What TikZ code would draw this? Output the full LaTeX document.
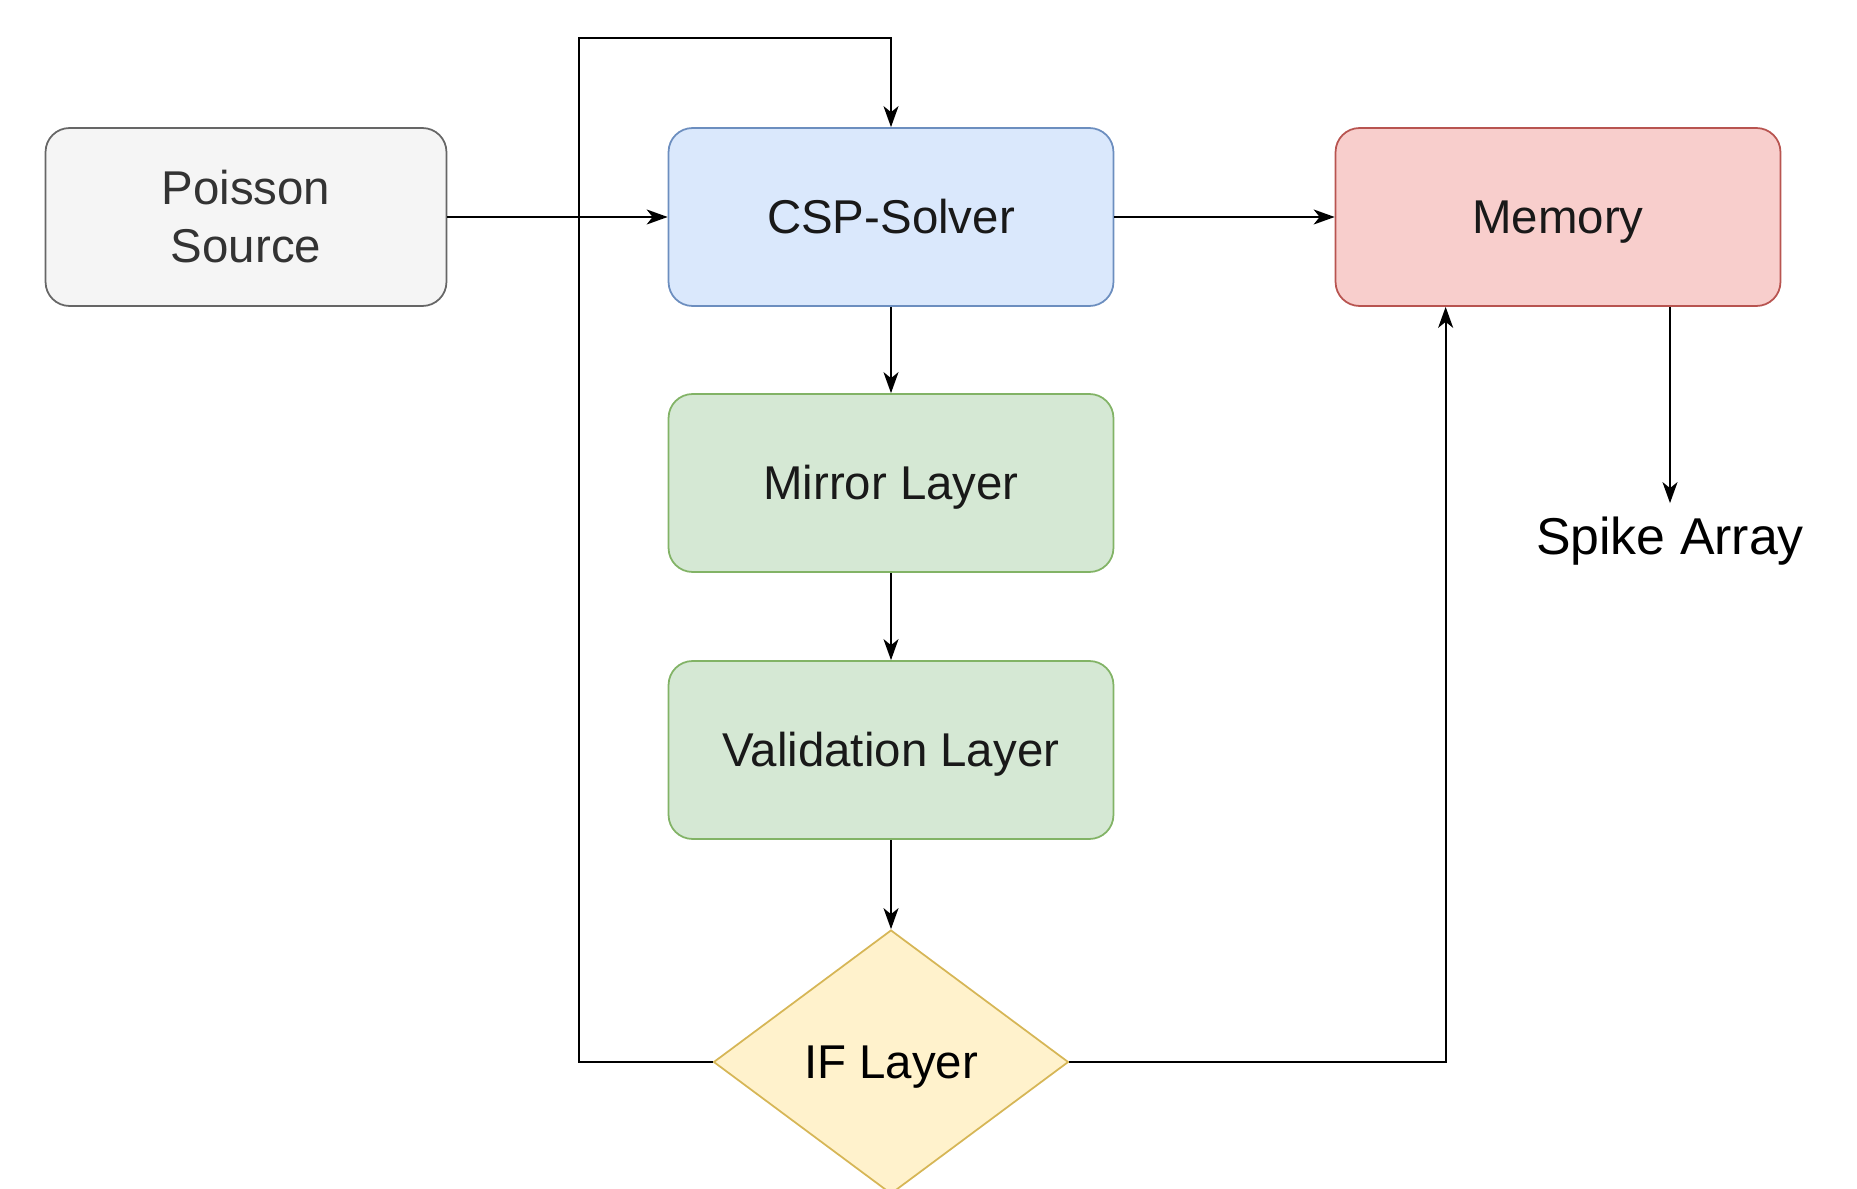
\documentclass[tikz,border=0pt]{standalone}
\usepackage{fontspec}
\setmainfont{Liberation Sans}
\usetikzlibrary{arrows.meta,shapes.geometric}
\definecolor{grayfill}{HTML}{F5F5F5}
\definecolor{graydraw}{HTML}{666666}
\definecolor{bluefill}{HTML}{DAE8FC}
\definecolor{bluedraw}{HTML}{6C8EBF}
\definecolor{greenfill}{HTML}{D5E8D4}
\definecolor{greendraw}{HTML}{82B366}
\definecolor{redfill}{HTML}{F8CECC}
\definecolor{reddraw}{HTML}{B85450}
\definecolor{yellowfill}{HTML}{FFF2CC}
\definecolor{yellowdraw}{HTML}{D6B656}
\tikzset{
  box/.style={rectangle,rounded corners=0.48cm,line width=1pt,
    minimum width=8.9cm,minimum height=3.56cm,align=center,
    font=\fontsize{27}{33}\selectfont,text=black!90},
  caps/.style={text height=19.3pt,text depth=0pt},
  arr/.style={line width=1.1pt,-{Stealth[length=0.42cm,width=0.3cm,inset=0.12cm]}},
}
\begin{document}
\begin{tikzpicture}[x=0.02cm,y=-0.02cm]
\useasboundingbox (0,0) rectangle (1857,1189);

% Source
\node[box,fill=grayfill,draw=graydraw,text=black!80,minimum width=8.02cm] (src) at (246,217) {Poisson\\Source};

% Solver and memory
\node[box,caps,fill=bluefill,draw=bluedraw] (csp) at (891,217) {CSP-Solver};
\node[box,caps,fill=redfill,draw=reddraw] (mem) at (1558,217) {Memory};

% Layers
\node[box,caps,fill=greenfill,draw=greendraw] (mirror) at (891,483) {Mirror Layer};
\node[box,caps,fill=greenfill,draw=greendraw] (valid) at (891,750) {Validation Layer};
\node[diamond,caps,fill=yellowfill,draw=yellowdraw,line width=1pt,inner sep=0pt,
  minimum width=7.1cm,minimum height=5.28cm,font=\fontsize{27}{33}\selectfont] (ifl) at (891,1062) {IF Layer};

% Output
\node[font=\fontsize{29.5}{35}\selectfont,text height=21.1pt,text depth=0pt,
  inner xsep=0pt,inner ysep=0.28cm] (spike) at (1670,536) {Spike Array};

% Loop corner
\coordinate (loop) at (579,38);

% Arrows
\draw[arr] (src.east) -- (csp.west);
\draw[arr] (csp.east) -- (mem.west);
\draw[arr] (csp.south) -- (mirror.north);
\draw[arr] (mirror.south) -- (valid.north);
\draw[arr] (valid.south) -- (ifl.north);
\draw[arr] (ifl.west) -| (loop) -| (csp.north);
\draw[arr] (ifl.east) -| ([xshift=2.22cm]mem.south west);
\draw[arr] (spike.north |- mem.south) -- (spike.north);
\end{tikzpicture}
\end{document}
